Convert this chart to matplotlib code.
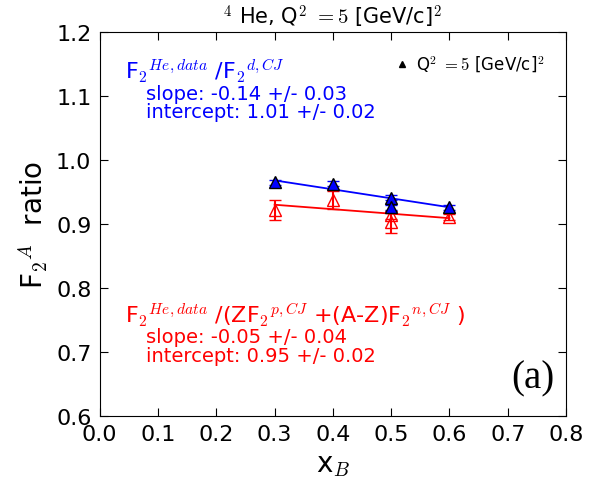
"""F2 ratio vs x_B for 4He at Q2=5"""
import numpy as np
import matplotlib
matplotlib.use('Agg')
import matplotlib.pyplot as plt

plt.rcParams['mathtext.fontset'] = 'cm'
plt.rcParams['mathtext.rm'] = 'DejaVu Sans'

# He / d ratio (blue)
x_d = [0.3, 0.4, 0.5, 0.5, 0.6]
r_d = [0.965, 0.963, 0.941, 0.926, 0.926]
e_d = [0.004, 0.004, 0.004, 0.004, 0.004]

# He / (Z p + (A-Z) n) ratio (red)
x_pn = [0.3, 0.4, 0.5, 0.5, 0.6]
r_pn = [0.922, 0.938, 0.914, 0.903, 0.911]
e_pn = [0.016, 0.014, 0.006, 0.017, 0.005]

# fit lines (slope, intercept) as drawn
fit_d = (-0.14, 1.010)
fit_pn = (-0.07, 0.951)
fit_x = [0.3, 0.6]

fig = plt.figure(figsize=(6.08, 4.89), dpi=100)
ax = fig.add_axes([0.164, 0.147, 0.767, 0.786])

ax.errorbar(x_d, r_d, yerr=e_d, fmt='^', color='b', mec='k', ecolor='b',
            ms=8, capsize=4, zorder=3)
ax.errorbar(x_pn, r_pn, yerr=e_pn, fmt='^', mfc='none', mec='r', ecolor='r',
            ms=8, capsize=4, zorder=2)

fx = np.array(fit_x)
ax.plot(fx, fit_d[0] * fx + fit_d[1], color='b', lw=1.3)
ax.plot(fx, fit_pn[0] * fx + fit_pn[1], color='r', lw=1.3)

# legend entry
ax.plot([], [], '^', color='k', ms=5, label=r'Q$^2$ $=5$ [GeV/c]$^2$')
ax.legend(loc='upper right', frameon=False, numpoints=1, fontsize=12,
          handlelength=1.0, handletextpad=0.3, borderaxespad=0.9)

ax.set_xlim(0.0, 0.8)
ax.set_ylim(0.6, 1.2)
ax.set_xticks(np.arange(0, 0.81, 0.1))
ax.set_yticks(np.arange(0.6, 1.21, 0.1))
ax.tick_params(direction='in', top=True, right=True, labelsize=16,
               length=6, pad=6)

ax.set_xlabel(r'x$_B$', fontsize=20)
ax.set_ylabel(r'F$_2$$^A$  ratio', fontsize=20)
ax.set_title(r'$^4$ He, Q$^2$ $=5$ [GeV/c]$^2$', fontsize=15)

ax.text(0.055, 0.88, r'F$_2$$^{He,data}$ /F$_2$$^{d,CJ}$', color='b',
        fontsize=16, transform=ax.transAxes)
ax.text(0.10, 0.826, 'slope: -0.14 +/- 0.03', color='b', fontsize=14,
        transform=ax.transAxes)
ax.text(0.10, 0.778, 'intercept: 1.01 +/- 0.02', color='b', fontsize=14,
        transform=ax.transAxes)

ax.text(0.055, 0.245,
        r'F$_2$$^{He,data}$ /(ZF$_2$$^{p,CJ}$ +(A-Z)F$_2$$^{n,CJ}$ )',
        color='r', fontsize=16, transform=ax.transAxes)
ax.text(0.10, 0.192, 'slope: -0.05 +/- 0.04', color='r', fontsize=14,
        transform=ax.transAxes)
ax.text(0.10, 0.144, 'intercept: 0.95 +/- 0.02', color='r', fontsize=14,
        transform=ax.transAxes)

ax.text(0.975, 0.05, '(a)', fontsize=28, family='Liberation Serif',
        ha='right', va='bottom', transform=ax.transAxes)

plt.savefig('out.png', dpi=100)
